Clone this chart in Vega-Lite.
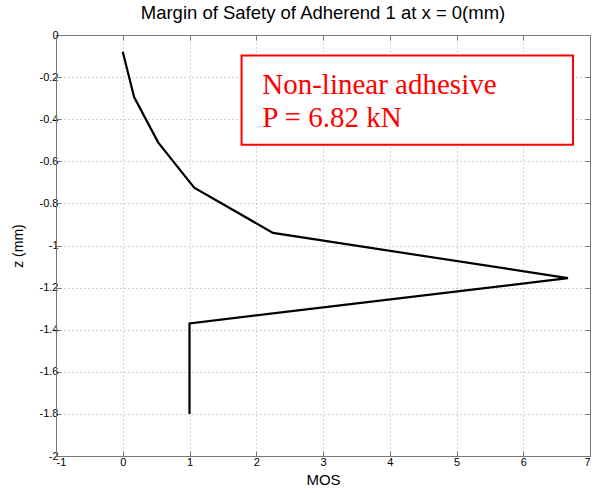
{
  "$schema": "https://vega.github.io/schema/vega-lite/v6.json",
  "width": 534,
  "height": 421,
  "autosize": {"type": "none"},
  "padding": {"left": 56, "top": 35, "right": 14, "bottom": 37},
  "background": "white",
  "config": {
    "view": {"stroke": "#777", "strokeWidth": 1},
    "font": "Liberation Sans",
    "axis": {
      "labelFont": "Liberation Sans",
      "labelFontSize": 11,
      "labelColor": "black",
      "titleFont": "Liberation Sans",
      "titleFontWeight": "normal",
      "titleColor": "black",
      "domainColor": "#777",
      "tickColor": "#777",
      "gridColor": "#aaaaaa",
      "gridDash": [1, 3],
      "gridWidth": 1
    }
  },
  "title": {
    "text": "Margin of Safety of Adherend 1 at x = 0(mm)",
    "font": "Liberation Sans",
    "fontSize": 18.5,
    "fontWeight": "normal",
    "color": "black",
    "offset": 7,
    "anchor": "middle"
  },
  "datasets": {
    "mos": [
      {"i": 1, "MOS": 0.0, "z": -0.08},
      {"i": 2, "MOS": 0.17, "z": -0.295},
      {"i": 3, "MOS": 0.53, "z": -0.51},
      {"i": 4, "MOS": 1.07, "z": -0.725},
      {"i": 5, "MOS": 2.25, "z": -0.94},
      {"i": 6, "MOS": 6.67, "z": -1.155},
      {"i": 7, "MOS": 1.0, "z": -1.37},
      {"i": 8, "MOS": 1.0, "z": -1.585},
      {"i": 9, "MOS": 1.0, "z": -1.8}
    ],
    "box": [{"x1": 1.78, "x2": 6.745, "y1": -0.097, "y2": -0.521}],
    "labels": [
      {"x": 2.09, "y": -0.279, "t": "Non-linear adhesive"},
      {"x": 2.09, "y": -0.438, "t": "P = 6.82 kN"}
    ]
  },
  "layer": [
    {
      "data": {"name": "mos"},
      "mark": {"type": "line", "color": "black", "strokeWidth": 2.2},
      "encoding": {
        "x": {
          "field": "MOS", "type": "quantitative",
          "scale": {"domain": [-1, 7], "nice": false, "zero": false},
          "axis": {
            "orient": "bottom",
            "values": [-1, 0, 1, 2, 3, 4, 5, 6, 7],
            "labelExpr": "toString(datum.value)",
            "tickSize": -5,
            "labelPadding": 5,
            "title": "MOS",
            "titleFontSize": 15,
            "titlePadding": 5,
            "grid": true
          }
        },
        "y": {
          "field": "z", "type": "quantitative",
          "scale": {"domain": [-2, 0], "nice": false, "zero": false},
          "axis": {
            "orient": "left",
            "values": [-2, -1.8, -1.6, -1.4, -1.2, -1, -0.8, -0.6, -0.4, -0.2, 0],
            "labelExpr": "toString(datum.value)",
            "tickSize": -5,
            "labelPadding": 3,
            "title": "z (mm)",
            "titleFontSize": 14,
            "titlePadding": 14,
            "grid": true
          }
        },
        "order": {"field": "i", "type": "quantitative"}
      }
    },
    {
      "data": {"name": "box"},
      "mark": {"type": "rect", "fill": "white", "stroke": "#ff0000", "strokeWidth": 2},
      "encoding": {
        "x": {"field": "x1", "type": "quantitative", "axis": null},
        "x2": {"field": "x2"},
        "y": {"field": "y1", "type": "quantitative", "axis": null},
        "y2": {"field": "y2"}
      }
    },
    {
      "data": {"name": "labels"},
      "mark": {"type": "text", "font": "Liberation Serif", "fontSize": 29, "color": "#ff0000", "align": "left", "baseline": "alphabetic"},
      "encoding": {
        "x": {"field": "x", "type": "quantitative", "axis": null},
        "y": {"field": "y", "type": "quantitative", "axis": null},
        "text": {"field": "t"}
      }
    },
    {
      "data": {"name": "mos"},
      "mark": {"type": "point", "opacity": 0},
      "encoding": {
        "x": {
          "field": "MOS", "type": "quantitative",
          "axis": {"orient": "top", "values": [-1, 0, 1, 2, 3, 4, 5, 6, 7], "labels": false, "tickSize": -5, "title": null, "grid": false}
        },
        "y": {
          "field": "z", "type": "quantitative",
          "axis": {"orient": "right", "values": [-2, -1.8, -1.6, -1.4, -1.2, -1, -0.8, -0.6, -0.4, -0.2, 0], "labels": false, "tickSize": -5, "title": null, "grid": false}
        }
      }
    }
  ],
  "resolve": {"axis": {"x": "independent", "y": "independent"}}
}
